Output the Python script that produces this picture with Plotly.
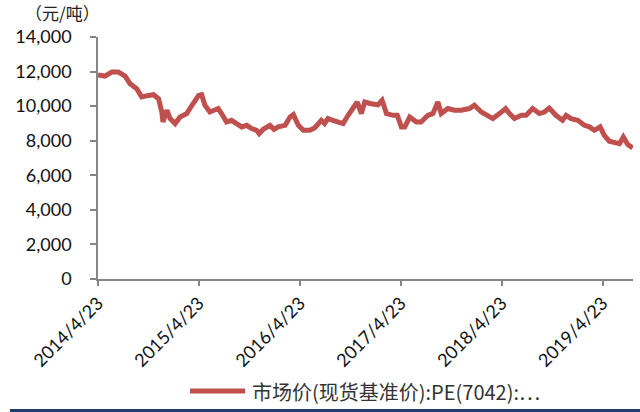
import plotly.graph_objects as go

# PE (7042) spot benchmark price, yuan per tonne
dates = [
    "2014-04-23", "2014-05-18", "2014-06-12", "2014-07-06", "2014-07-30", "2014-08-17",
    "2014-09-10", "2014-09-28", "2014-10-23", "2014-11-10", "2014-11-28", "2014-12-10",
    "2014-12-14", "2014-12-28", "2015-01-09", "2015-01-27", "2015-02-14", "2015-03-10",
    "2015-03-29", "2015-04-22", "2015-05-03", "2015-05-15", "2015-06-02", "2015-07-02",
    "2015-07-14", "2015-08-01", "2015-08-19", "2015-09-06", "2015-09-25", "2015-10-13",
    "2015-10-31", "2015-11-18", "2015-11-27", "2015-12-12", "2016-01-05", "2016-01-20",
    "2016-02-04", "2016-02-29", "2016-03-18", "2016-03-30", "2016-04-17", "2016-05-05",
    "2016-05-28", "2016-06-15", "2016-07-09", "2016-07-21", "2016-08-02", "2016-08-20",
    "2016-09-08", "2016-09-26", "2016-10-14", "2016-11-07", "2016-11-16", "2016-12-01",
    "2016-12-13", "2017-01-06", "2017-01-30", "2017-02-14", "2017-03-02", "2017-03-26",
    "2017-04-10", "2017-04-25", "2017-05-07", "2017-05-25", "2017-06-18", "2017-07-05",
    "2017-07-30", "2017-08-17", "2017-09-04", "2017-09-16", "2017-10-10", "2017-11-03",
    "2017-11-27", "2017-12-27", "2018-01-14", "2018-02-08", "2018-03-04", "2018-03-22",
    "2018-04-15", "2018-05-07", "2018-05-21", "2018-06-08", "2018-07-03", "2018-07-20",
    "2018-08-13", "2018-09-06", "2018-09-24", "2018-10-12", "2018-11-05", "2018-11-29",
    "2018-12-12", "2018-12-30", "2019-01-23", "2019-02-16", "2019-03-06", "2019-03-24",
    "2019-04-14", "2019-04-29", "2019-05-17", "2019-06-04", "2019-06-23", "2019-07-07",
    "2019-07-23", "2019-08-10",
]
prices = [
    11800, 11740, 11970, 11970, 11740, 11300,
    11010, 10530, 10620, 10660, 10430, 9660,
    9080, 9760, 9280, 8990, 9370, 9570,
    10050, 10620, 10660, 10050, 9660, 9860,
    9570, 9080, 9180, 8990, 8800, 8890,
    8700, 8600, 8410, 8660, 8890, 8660,
    8800, 8890, 9370, 9510, 8890, 8600,
    8600, 8740, 9180, 8990, 9280, 9180,
    9080, 8990, 9470, 10050, 10240, 9570,
    10240, 10140, 10080, 10340, 9570, 9470,
    9470, 8800, 8800, 9370, 9080, 9080,
    9470, 9570, 10240, 9570, 9860, 9760,
    9760, 9860, 10050, 9660, 9470, 9280,
    9570, 9860, 9570, 9280, 9470, 9470,
    9860, 9570, 9660, 9890, 9470, 9180,
    9470, 9280, 9180, 8890, 8800, 8600,
    8800, 8310, 7970, 7930, 7830, 8220,
    7780, 7580,
]

tick_dates = ["2014-04-23", "2015-04-23", "2016-04-23", "2017-04-23", "2018-04-23", "2019-04-23"]
tick_labels = ["2014/4/23", "2015/4/23", "2016/4/23", "2017/4/23", "2018/4/23", "2019/4/23"]
y_ticks = [0, 2000, 4000, 6000, 8000, 10000, 12000, 14000]

series_name = "市场价(现货基准价):PE(7042):⋯"
unit_label = "（元/吨）"

LINE_COLOR = "#C0504D"
AXIS_COLOR = "#868686"
FONT = "Lato, 'Noto Sans CJK SC', sans-serif"
CJK_FONT = "'Noto Sans CJK SC', Lato, sans-serif"

fig = go.Figure()
fig.add_trace(go.Scatter(
    x=dates, y=prices, mode="lines", name=series_name,
    line=dict(color=LINE_COLOR, width=5), showlegend=False,
))

fig.update_layout(
    width=640, height=412,
    margin=dict(l=98, r=7, t=37, b=133),
    paper_bgcolor="white", plot_bgcolor="white",
    font=dict(family=FONT, size=18, color="#111111"),
    xaxis=dict(
        type="date",
        range=["2014-04-23", "2019-08-11"],
        tickmode="array", tickvals=tick_dates, ticktext=tick_labels,
        tickangle=-45,
        showgrid=False, zeroline=False,
        showline=True, linecolor=AXIS_COLOR, linewidth=1.5,
        ticks="outside", ticklen=5, tickcolor=AXIS_COLOR, tickwidth=1.5,
        tickfont=dict(size=18),
    ),
    yaxis=dict(
        range=[0, 14000],
        tickmode="array", tickvals=y_ticks,
        tickformat=",d",
        showgrid=False, zeroline=False,
        showline=True, linecolor=AXIS_COLOR, linewidth=1.5,
        ticks="outside", ticklen=6, tickcolor=AXIS_COLOR, tickwidth=1.5,
        tickfont=dict(size=18),
        ticklabelstandoff=15,
    ),
)

# unit label above the value axis
fig.add_annotation(
    text=unit_label, xref="paper", yref="paper",
    x=-0.14, y=1.043, xanchor="left", yanchor="bottom",
    showarrow=False, font=dict(family=CJK_FONT, size=17, color="#222222"),
)

# legend: line sample plus series name
fig.add_shape(
    type="line", xref="paper", yref="paper",
    x0=0.172, x1=0.275, y0=-0.463, y1=-0.463,
    line=dict(color=LINE_COLOR, width=5),
)
fig.add_annotation(
    text=series_name, xref="paper", yref="paper",
    x=0.284, y=-0.463, xanchor="left", yanchor="middle",
    showarrow=False, font=dict(family=CJK_FONT, size=20, color="#333333"),
)

# dark blue rule along the bottom edge
fig.add_shape(
    type="rect", xref="paper", yref="paper",
    x0=-0.1645, x1=1.02, y0=-0.56, y1=-0.537,
    line=dict(width=0), fillcolor="#1F3D6E",
)

fig.write_html("out.html")
